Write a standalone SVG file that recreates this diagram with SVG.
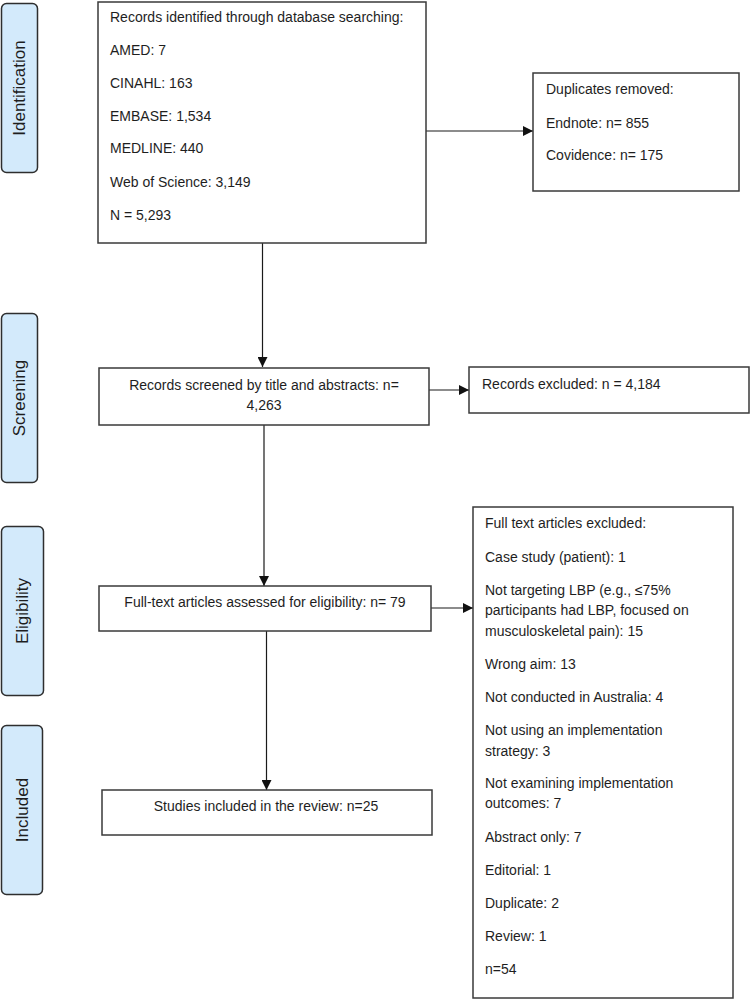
<svg xmlns="http://www.w3.org/2000/svg" width="750" height="999" viewBox="0 0 750 999">
<style>
.bg{fill:#ffffff}
.box{fill:#ffffff;stroke:#3a3a3a;stroke-width:1.5}
.phase{fill:#d3eafb;stroke:#2e2e2e;stroke-width:1.5}
.t{font-family:"Liberation Sans",Arial,sans-serif;font-size:14px;fill:#1e1e1e}
.c{text-anchor:middle}
.pt{font-family:"Liberation Sans",Arial,sans-serif;font-size:17px;fill:#1e1e1e;text-anchor:middle;dominant-baseline:central}
.edge{stroke:#1a1a1a;stroke-width:1.2;fill:none;marker-end:url(#arr)}
</style>
<defs>
<marker id="arr" viewBox="0 0 10 10" refX="10" refY="5" markerWidth="10" markerHeight="10" markerUnits="userSpaceOnUse" orient="auto">
<path d="M0,0 L10,5 L0,10 z" fill="#111"/>
</marker>
</defs>
<rect class="bg" x="0" y="0" width="750" height="999"/>

<g id="phase-identification">
<rect class="phase" x="1.5" y="3.5" width="36" height="169" rx="5"/>
<text class="pt" transform="translate(19.5,88) rotate(-90)">Identification</text>
</g>
<g id="phase-screening">
<rect class="phase" x="1.5" y="313.5" width="36" height="169" rx="5"/>
<text class="pt" transform="translate(19.5,398) rotate(-90)">Screening</text>
</g>
<g id="phase-eligibility">
<rect class="phase" x="1.5" y="526.5" width="42" height="169" rx="5"/>
<text class="pt" transform="translate(22.5,611) rotate(-90)">Eligibility</text>
</g>
<g id="phase-included">
<rect class="phase" x="1.5" y="725.5" width="41" height="169" rx="5"/>
<text class="pt" transform="translate(22,810) rotate(-90)">Included</text>
</g>

<g id="connectors">
<line class="edge" x1="426" y1="131" x2="533" y2="131"/>
<line class="edge" x1="262.5" y1="243" x2="262.5" y2="367"/>
<line class="edge" x1="429" y1="390" x2="469" y2="390"/>
<line class="edge" x1="264" y1="425" x2="264" y2="586"/>
<line class="edge" x1="431" y1="608" x2="473" y2="608"/>
<line class="edge" x1="266.5" y1="631" x2="266.5" y2="790"/>
</g>

<g id="node-identified">
<rect class="box" x="98" y="2" width="328" height="241"/>
<text class="t" x="110" y="22">Records identified through database searching:</text>
<text class="t" x="110" y="55">AMED: 7</text>
<text class="t" x="110" y="88">CINAHL: 163</text>
<text class="t" x="110" y="121">EMBASE: 1,534</text>
<text class="t" x="110" y="153">MEDLINE: 440</text>
<text class="t" x="110" y="187">Web of Science: 3,149</text>
<text class="t" x="110" y="220">N = 5,293</text>
</g>

<g id="node-duplicates">
<rect class="box" x="533" y="73" width="206" height="118"/>
<text class="t" x="546" y="94">Duplicates removed:</text>
<text class="t" x="546" y="128">Endnote: n= 855</text>
<text class="t" x="546" y="160">Covidence: n= 175</text>
</g>

<g id="node-screened">
<rect class="box" x="99" y="368" width="330" height="57"/>
<text class="t c" x="264" y="390">Records screened by title and abstracts: n=</text>
<text class="t c" x="264" y="410">4,263</text>
</g>

<g id="node-excluded">
<rect class="box" x="469" y="367" width="280" height="46"/>
<text class="t" x="482" y="389">Records excluded: n = 4,184</text>
</g>

<g id="node-fulltext">
<rect class="box" x="99" y="586" width="332" height="45"/>
<text class="t c" x="265" y="607">Full-text articles assessed for eligibility: n= 79</text>
</g>

<g id="node-fulltext-excluded">
<rect class="box" x="473" y="507" width="260" height="491"/>
<text class="t" x="485" y="528">Full text articles excluded:</text>
<text class="t" x="485" y="562">Case study (patient): 1</text>
<text class="t" x="485" y="595">Not targeting LBP (e.g., ≤75%</text>
<text class="t" x="485" y="615">participants had LBP, focused on</text>
<text class="t" x="485" y="636">musculoskeletal pain): 15</text>
<text class="t" x="485" y="669">Wrong aim: 13</text>
<text class="t" x="485" y="702">Not conducted in Australia: 4</text>
<text class="t" x="485" y="735">Not using an implementation</text>
<text class="t" x="485" y="756">strategy: 3</text>
<text class="t" x="485" y="788">Not examining implementation</text>
<text class="t" x="485" y="808">outcomes: 7</text>
<text class="t" x="485" y="842">Abstract only: 7</text>
<text class="t" x="485" y="875">Editorial: 1</text>
<text class="t" x="485" y="908">Duplicate: 2</text>
<text class="t" x="485" y="941">Review: 1</text>
<text class="t" x="485" y="974">n=54</text>
</g>

<g id="node-included">
<rect class="box" x="102" y="790" width="330" height="45"/>
<text class="t c" x="266" y="811">Studies included in the review: n=25</text>
</g>
</svg>
